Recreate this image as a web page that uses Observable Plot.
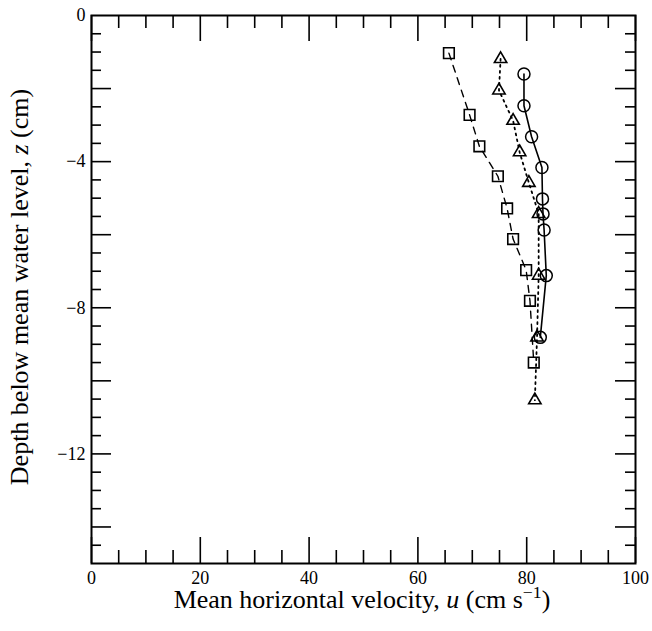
<!DOCTYPE html>
<html>
<head>
<meta charset="utf-8">
<script src="https://cdn.jsdelivr.net/npm/d3@7"></script>
<script src="https://cdn.jsdelivr.net/npm/@observablehq/plot@0.6"></script>
<style>
  html, body { margin: 0; padding: 0; background: #fff; }
  #chart { position: relative; width: 652px; height: 631px; }
  #chart svg { display: block; }
  .axis-title {
    position: absolute;
    width: 520px;
    height: 26px;
    font-family: "Liberation Serif", "Times New Roman", serif;
    font-size: 26px;
    line-height: 26px;
    white-space: nowrap;
    text-align: center;
    color: black;
  }
  .axis-title sup { font-size: 0.68em; line-height: 0; vertical-align: baseline; position: relative; top: -0.55em; }
  #x-title { left: 102px; top: 587px; }
  #y-title { left: -240px; top: 274px; transform: rotate(-90deg); transform-origin: 50% 50%; }
</style>
</head>
<body>
<div id="chart">
  <div class="axis-title" id="x-title">Mean horizontal velocity, <i>u</i> (cm s<sup>−1</sup>)</div>
  <div class="axis-title" id="y-title">Depth below mean water level, <i>z</i> (cm)</div>
</div>
<script>
// Mean horizontal velocity profiles, u (cm/s), against depth z (cm)
const squareU   = [65.7, 69.5, 71.3, 74.7, 76.4, 77.5, 79.9, 80.6, 81.3];
const squareZ   = [-1.03, -2.72, -3.58, -4.40, -5.28, -6.12, -6.97, -7.81, -9.50];
const triangleU = [75.2, 74.9, 77.5, 78.7, 80.4, 82.2, 82.2, 81.9, 81.5];
const triangleZ = [-1.19, -2.05, -2.88, -3.74, -4.58, -5.43, -7.12, -8.81, -10.53];
const circleU   = [79.5, 79.5, 80.9, 82.8, 82.9, 83.0, 83.2, 83.6, 82.5];
const circleZ   = [-1.6, -2.47, -3.32, -4.16, -5.02, -5.43, -5.87, -7.12, -8.81];

// Tick positions and labels
const xLabelTicks = [0, 20, 40, 60, 80, 100];
const xMinorTicks = [5, 10, 15, 25, 30, 35, 45, 50, 55, 65, 70, 75, 85, 90, 95];
const yLabelTicks = [0, -4, -8, -12];
const yMajorTicks = [-2, -4, -6, -8, -10, -12, -14];
const yMinorTicks = [-0.5, -1, -1.5, -2.5, -3, -3.5, -4.5, -5, -5.5, -6.5, -7, -7.5,
                     -8.5, -9, -9.5, -10.5, -11, -11.5, -12.5, -13, -13.5, -14.5];

const rows = (us, zs) => us.map((u, i) => ({u, z: zs[i]}));
const squares = rows(squareU, squareZ);
const triangles = rows(triangleU, triangleZ);
const circles = rows(circleU, circleZ);

const W = 652, H = 631;
const mL = 91, mR = 17, mT = 15, mB = 68;
const innerW = W - mL - mR, innerH = H - mT - mB;
const serif = "'Liberation Serif', 'Times New Roman', serif";

const tickStyle = {stroke: "black", strokeWidth: 1.6};

const plot = Plot.plot({
  width: W,
  height: H,
  marginLeft: mL,
  marginRight: mR,
  marginTop: mT,
  marginBottom: mB,
  style: {fontSize: "18px", color: "black", background: "white", overflow: "visible"},
  x: {domain: [0, 100], ticks: xLabelTicks, tickSize: 0, tickPadding: 8, label: null},
  y: {domain: [-15, 0], ticks: yLabelTicks, tickSize: 0, tickPadding: 6, label: null,
      tickFormat: d => d === 0 ? "0" : "−" + Math.abs(d)},
  marks: [
    // inward ticks on all four sides
    Plot.tickX(xMinorTicks, {x: d => d, insetTop: innerH - 13, ...tickStyle}),
    Plot.tickX(xLabelTicks, {x: d => d, insetTop: innerH - 26, ...tickStyle}),
    Plot.tickX(xMinorTicks, {x: d => d, insetBottom: innerH - 13, ...tickStyle}),
    Plot.tickX(xLabelTicks, {x: d => d, insetBottom: innerH - 26, ...tickStyle}),
    Plot.tickY(yMinorTicks, {y: d => d, insetRight: innerW - 10, ...tickStyle}),
    Plot.tickY(yMajorTicks, {y: d => d, insetRight: innerW - 20, ...tickStyle}),
    Plot.tickY(yMinorTicks, {y: d => d, insetLeft: innerW - 10, ...tickStyle}),
    Plot.tickY(yMajorTicks, {y: d => d, insetLeft: innerW - 20, ...tickStyle}),
    Plot.frame({stroke: "black", strokeWidth: 2}),

    // profiles
    Plot.line(squares, {x: "u", y: "z", stroke: "black", strokeWidth: 1.4, strokeDasharray: "7,6"}),
    Plot.line(triangles, {x: "u", y: "z", stroke: "black", strokeWidth: 1.8, strokeDasharray: "1.8,4.2"}),
    Plot.line(circles, {x: "u", y: "z", stroke: "black", strokeWidth: 1.6}),
    Plot.dot(squares, {x: "u", y: "z", symbol: "square", r: 6, stroke: "black", strokeWidth: 1.6, fill: "none"}),
    Plot.dot(triangles, {x: "u", y: "z", symbol: "triangle", r: 4.6, stroke: "black", strokeWidth: 1.6, fill: "none"}),
    Plot.dot(circles, {x: "u", y: "z", symbol: "circle", r: 6, stroke: "black", strokeWidth: 1.5, fill: "none"})
  ]
});

// serif type for the tick labels
const svg = d3.select(plot);
svg.style("font-family", serif);
svg.selectAll("g, text").style("font-family", serif);

const chart = document.getElementById("chart");
chart.insertBefore(plot, chart.firstChild);
</script>
</body>
</html>
